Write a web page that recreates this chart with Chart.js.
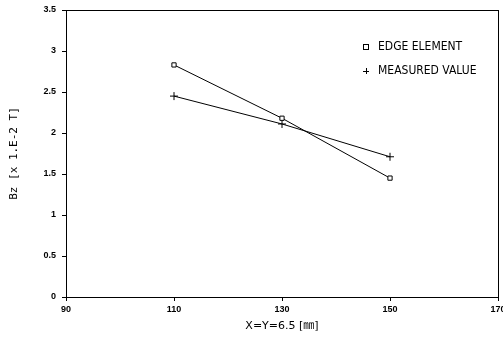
<!DOCTYPE html>
<html><head><meta charset="utf-8">
<script src="https://cdn.jsdelivr.net/npm/chart.js@4/dist/chart.umd.min.js"></script>
<style>html,body{margin:0;padding:0;background:#fff}#wrap{width:503px;height:344px}</style>
</head><body><div id="wrap"><canvas id="c"></canvas></div>
<script>
const xPositions = [110, 130, 150];
const edgeElement = [2.83, 2.18, 1.45];
const measuredValue = [2.45, 2.11, 1.71];
const legendLabels = ["EDGE ELEMENT", "MEASURED VALUE"];
const xTitle = "X=Y=6.5 [㎜]";
const yTitle = "Bz [x 1.E-2 T]";

const toPts = arr => arr.map((v, i) => ({x: xPositions[i], y: v}));

const frame = {
  id: 'frame',
  afterDatasetsDraw(chart) {
    const a = chart.chartArea, ctx = chart.ctx;
    ctx.save();
    ctx.strokeStyle = '#000'; ctx.lineWidth = 1;
    ctx.strokeRect(Math.round(a.left) + 0.5, Math.round(a.top) + 0.5, Math.round(a.right - a.left), Math.round(a.bottom - a.top));
    // legend
    const lx = 366, ly = [47, 71];
    ctx.fillStyle = '#000';
    ctx.font = '12px "Liberation Sans Narrow", "DejaVu Sans Condensed", sans-serif';
    ctx.textBaseline = 'middle';
    ctx.strokeRect(lx - 2.5, ly[0] - 2.5, 5, 5);
    ctx.beginPath();
    ctx.moveTo(lx - 3, ly[1] + 0.5); ctx.lineTo(lx + 3, ly[1] + 0.5);
    ctx.moveTo(lx + 0.5, ly[1] - 3); ctx.lineTo(lx + 0.5, ly[1] + 3);
    ctx.stroke();
    ctx.fillText(legendLabels[0], lx + 12, ly[0]);
    ctx.fillText(legendLabels[1], lx + 12, ly[1]);
    ctx.restore();
  }
};

new Chart(document.getElementById('c'), {
  type: 'line',
  data: {
    datasets: [
      {label: legendLabels[0], data: toPts(edgeElement), borderColor: '#000', borderWidth: 1,
       pointStyle: 'rect', pointRadius: 3, pointBackgroundColor: '#fff', pointBorderColor: '#000', pointBorderWidth: 1, tension: 0},
      {label: legendLabels[1], data: toPts(measuredValue), borderColor: '#000', borderWidth: 1,
       pointStyle: 'cross', pointRadius: 4, pointBorderColor: '#000', pointBorderWidth: 1, tension: 0}
    ]
  },
  options: {
    responsive: true, maintainAspectRatio: false, animation: false,
    layout: {padding: {top: 10, right: 3, left: 0, bottom: 0}},
    plugins: {legend: {display: false}, tooltip: {enabled: false}},
    scales: {
      x: {
        type: 'linear', min: 90, max: 170,
        afterFit(s) { s.height = 47; s.paddingRight = 0; s.paddingLeft = 0; },
        ticks: {stepSize: 20, color: '#000', font: {size: 9, weight: 'bold', family: '"Liberation Sans", sans-serif'}, padding: 3, maxRotation: 0},
        grid: {drawOnChartArea: false, drawTicks: true, tickLength: 4, color: '#000'},
        border: {display: true, color: '#000'},
        title: {display: true, text: xTitle, color: '#000', font: {size: 11, family: '"DejaVu Sans", "Noto Sans CJK JP", sans-serif'}, padding: {top: 4, bottom: 11}}
      },
      y: {
        min: 0, max: 3.5,
        afterFit(s) { s.width = 66; s.paddingTop = 0; s.paddingBottom = 0; },
        ticks: {stepSize: 0.5, color: '#000', font: {size: 9, weight: 'bold', family: '"Liberation Sans", sans-serif'}, padding: 6,
                callback: v => String(v)},
        grid: {drawOnChartArea: false, drawTicks: true, tickLength: 4, color: '#000'},
        border: {display: true, color: '#000'},
        title: {display: true, text: yTitle, color: '#000', font: {size: 11, family: '"DejaVu Sans Mono", monospace'}, padding: {top: 8, bottom: 0}}
      }
    }
  },
  plugins: [frame]
});
</script></body></html>
